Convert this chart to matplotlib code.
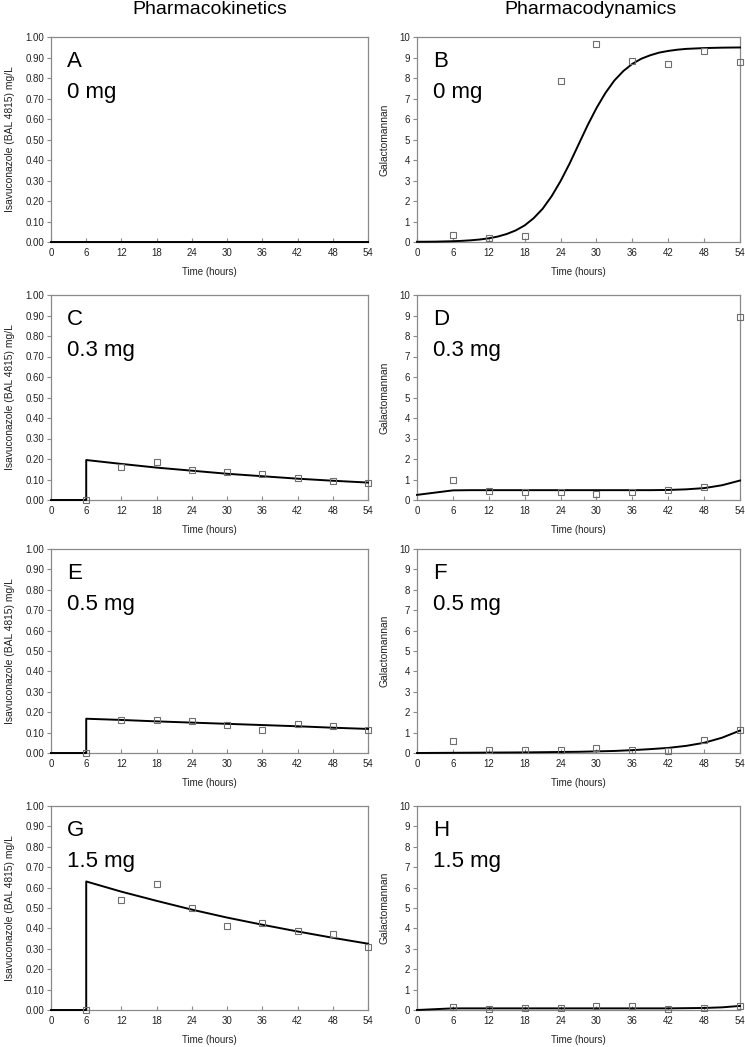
import matplotlib
matplotlib.use("Agg")
import matplotlib.pyplot as plt
import numpy as np

plt.rcParams["font.family"] = ["Liberation Sans", "DejaVu Sans"]

# ---------------- data ----------------
obs_t = [6, 12, 18, 24, 30, 36, 42, 48, 54]

# PK panels (mg/L)
pk_obs_C = [0.0, 0.16, 0.185, 0.145, 0.135, 0.125, 0.105, 0.095, 0.085]
pk_obs_E = [0.0, 0.16, 0.16, 0.155, 0.135, 0.115, 0.14, 0.13, 0.115]
pk_obs_G = [0.0, 0.54, 0.62, 0.50, 0.41, 0.425, 0.385, 0.375, 0.31]

pk_fit_t = [0, 6, 6, 12, 18, 24, 30, 36, 42, 48, 54]
pk_fit_A = [0, 0, 0, 0, 0, 0, 0, 0, 0, 0, 0]
pk_fit_C = [0, 0, 0.195, 0.176, 0.158, 0.143, 0.128, 0.116, 0.104, 0.094, 0.085]
pk_fit_E = [0, 0, 0.168, 0.162, 0.155, 0.149, 0.143, 0.137, 0.131, 0.124, 0.118]
pk_fit_G = [0, 0, 0.63, 0.58, 0.535, 0.492, 0.453, 0.418, 0.385, 0.354, 0.325]

# PD panels (galactomannan)
pd_obs_B = [0.35, 0.2, 0.3, 7.85, 9.65, 8.85, 8.7, 9.3, 8.8]
pd_obs_D = [1.0, 0.45, 0.38, 0.38, 0.28, 0.4, 0.5, 0.62, 8.95]
pd_obs_F = [0.58, 0.17, 0.14, 0.13, 0.23, 0.14, 0.12, 0.65, 1.15]
pd_obs_H = [0.15, 0.05, 0.08, 0.08, 0.2, 0.2, 0.07, 0.1, 0.2]

pd_fit_tB = [0, 3, 6, 7.5, 9, 10.5, 12, 13.5, 15, 16.5, 18, 19.5, 21, 22.5, 24,
             25.5, 27, 28.5, 30, 31.5, 33, 34.5, 36, 37.5, 39, 40.5, 42, 43.5,
             45, 48, 51, 54]
pd_fit_B = [0.01, 0.017, 0.038, 0.056, 0.083, 0.122, 0.18, 0.265, 0.39, 0.564,
            0.81, 1.16, 1.62, 2.23, 2.97, 3.82, 4.75, 5.68, 6.53, 7.27, 7.88,
            8.34, 8.69, 8.94, 9.11, 9.24, 9.32, 9.38, 9.42, 9.46, 9.48, 9.49]

pd_fit_t = [0, 3, 6, 9, 12, 15, 18, 21, 24, 27, 30, 33, 36, 39, 42, 45, 48, 51, 54]
pd_fit_D = [0.25, 0.36, 0.47, 0.48, 0.48, 0.48, 0.48, 0.48, 0.48, 0.48, 0.48,
            0.48, 0.48, 0.48, 0.49, 0.52, 0.58, 0.72, 0.95]
pd_fit_F = [0.0, 0.005, 0.01, 0.015, 0.02, 0.025, 0.03, 0.04, 0.05, 0.06, 0.08,
            0.1, 0.14, 0.19, 0.25, 0.35, 0.5, 0.75, 1.1]
pd_fit_H = [0.0, 0.04, 0.08, 0.08, 0.08, 0.08, 0.08, 0.08, 0.08, 0.08, 0.08,
            0.08, 0.08, 0.08, 0.08, 0.09, 0.1, 0.13, 0.2]

letters_pk = ["A", "C", "E", "G"]
letters_pd = ["B", "D", "F", "H"]
doses = ["0 mg", "0.3 mg", "0.5 mg", "1.5 mg"]

pk_obs = [None, pk_obs_C, pk_obs_E, pk_obs_G]
pk_fit = [pk_fit_A, pk_fit_C, pk_fit_E, pk_fit_G]
pd_obs = [pd_obs_B, pd_obs_D, pd_obs_F, pd_obs_H]
pd_fit = [(pd_fit_tB, pd_fit_B), (pd_fit_t, pd_fit_D),
          (pd_fit_t, pd_fit_F), (pd_fit_t, pd_fit_H)]

# ---------------- layout ----------------
W, H = 745, 1047
fig = plt.figure(figsize=(W / 100, H / 100), dpi=100)

row_top = [37, 295, 549, 806]
row_bot = [242, 500, 753, 1010]
GRAY = "#8a8a8a"


def style(ax, ymax, yticks, fmt, ylabel):
    ax.set_xlim(0, 54)
    ax.set_ylim(0, ymax)
    ax.set_xticks(range(0, 55, 6))
    ax.set_yticks(yticks)
    ax.set_yticklabels([fmt.format(v) for v in yticks])
    for s in ax.spines.values():
        s.set_color(GRAY)
        s.set_linewidth(0.9)
    ax.tick_params(axis="x", direction="in", length=3, color=GRAY,
                   labelsize=7, pad=4, labelcolor="#222222")
    ax.tick_params(axis="y", direction="out", length=3, color=GRAY,
                   labelsize=7, pad=2, labelcolor="#222222")
    ax.set_xlabel("Time (hours)", fontsize=7, labelpad=7, color="#222222")
    ax.set_ylabel(ylabel, fontsize=7.4, labelpad=7, color="#222222")


for i in range(4):
    bottom = 1 - row_bot[i] / H
    height = (row_bot[i] - row_top[i]) / H

    # pharmacokinetics
    ax = fig.add_axes([51 / W, bottom, 317 / W, height])
    style(ax, 1.0, np.round(np.arange(0, 1.01, 0.1), 2), "{:.2f}",
          "Isavuconazole (BAL 4815) mg/L")
    ax.plot(pk_fit_t, pk_fit[i], color="black", lw=1.4, clip_on=False, zorder=3)
    if pk_obs[i] is not None:
        ax.plot(obs_t, pk_obs[i], ls="none", marker="s", ms=5, mfc="none",
                mec="#6e6e6e", mew=0.8, clip_on=False, zorder=4)
    ax.text(0.05, 0.93, letters_pk[i], transform=ax.transAxes, fontsize=16,
            va="top", ha="left")
    ax.text(0.05, 0.78, doses[i], transform=ax.transAxes, fontsize=16,
            va="top", ha="left")

    # pharmacodynamics
    ax = fig.add_axes([417 / W, bottom, 323 / W, height])
    style(ax, 10, list(range(0, 11)), "{:d}", "Galactomannan")
    ax.plot(pd_fit[i][0], pd_fit[i][1], color="black", lw=1.4, clip_on=False,
            zorder=3)
    ax.plot(obs_t, pd_obs[i], ls="none", marker="s", ms=5, mfc="none",
            mec="#6e6e6e", mew=0.8, clip_on=False, zorder=4)
    ax.text(0.05, 0.93, letters_pd[i], transform=ax.transAxes, fontsize=16,
            va="top", ha="left")
    ax.text(0.05, 0.78, doses[i], transform=ax.transAxes, fontsize=16,
            va="top", ha="left")

fig.text(210 / W, 1 - 10 / H, "Pharmacokinetics", fontsize=14,
         ha="center", va="center")
fig.text(590 / W, 1 - 10 / H, "Pharmacodynamics", fontsize=14,
         ha="center", va="center")

fig.savefig("out.png", dpi=100)
